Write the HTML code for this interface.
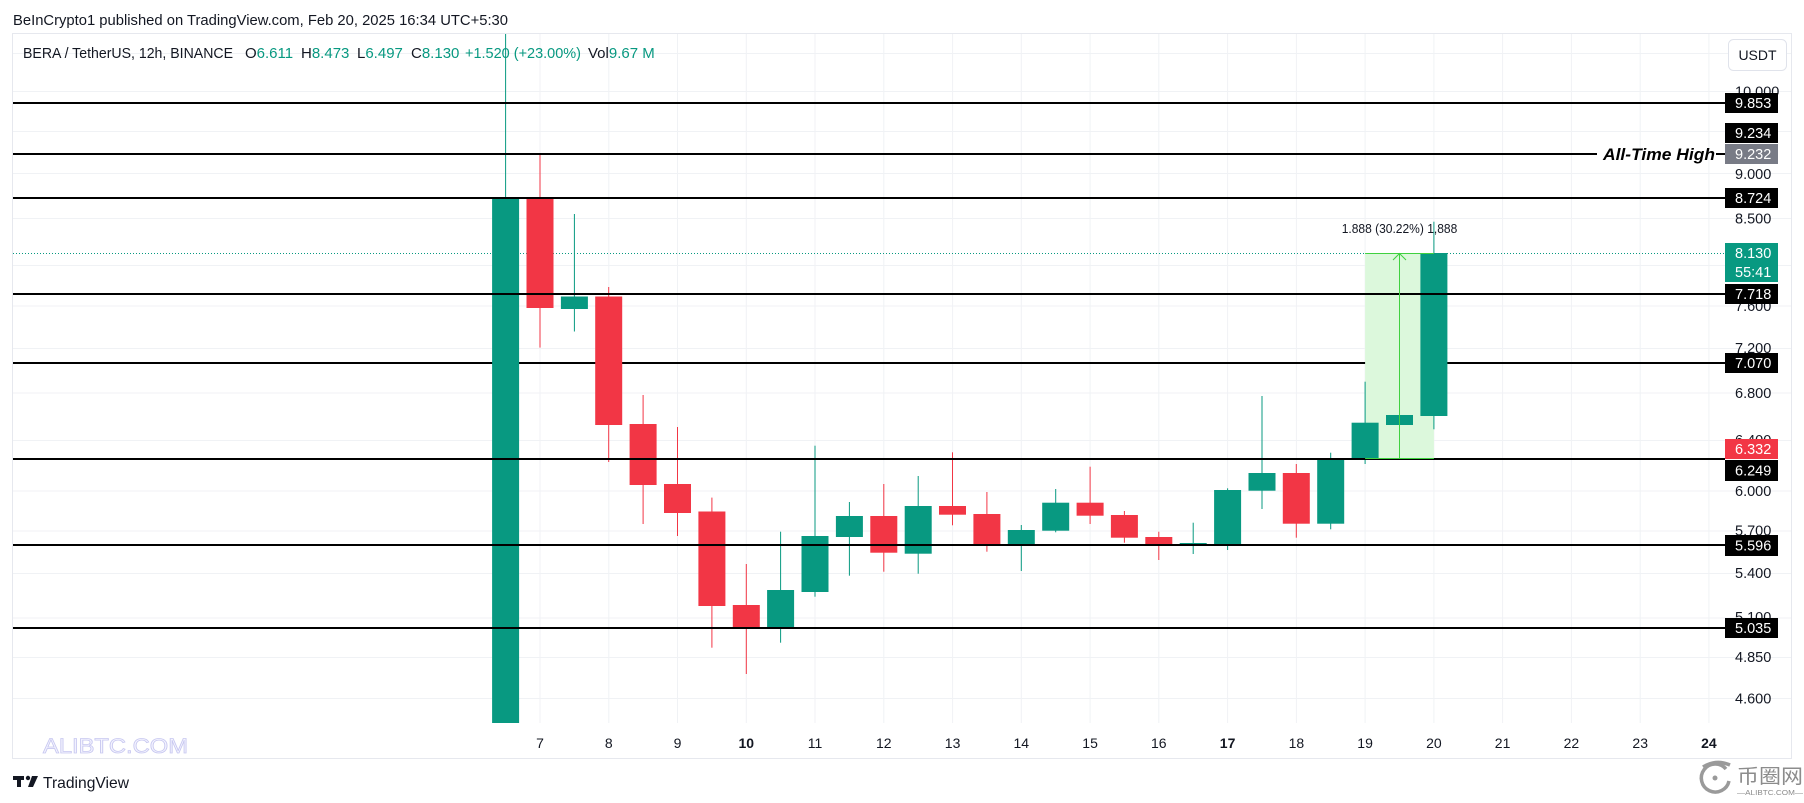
<!DOCTYPE html>
<html><head><meta charset="utf-8"><style>
html,body{margin:0;padding:0;background:#fff;}
svg{display:block;}
text{font-family:"Liberation Sans",sans-serif;}
</style></head><body>
<svg width="1804" height="803" viewBox="0 0 1804 803" xmlns="http://www.w3.org/2000/svg">
<rect width="1804" height="803" fill="#fff"/>
<!-- title -->
<text x="13" y="25" font-size="14.5" fill="#131722" textLength="495" lengthAdjust="spacingAndGlyphs">BeInCrypto1 published on TradingView.com, Feb 20, 2025 16:34 UTC+5:30</text>
<!-- pane -->
<rect x="12.5" y="33.5" width="1779" height="725" fill="none" stroke="#e6e8ee" stroke-width="1"/>
<!-- horizontal grid -->
<g stroke="#f0f2f5" stroke-width="1">
<line x1="13" x2="1791" y1="53.5" y2="53.5"/>
<line x1="13" x2="1791" y1="91.5" y2="91.5"/>
<line x1="13" x2="1791" y1="131.5" y2="131.5"/>
<line x1="13" x2="1791" y1="173.5" y2="173.5"/>
<line x1="13" x2="1791" y1="218.5" y2="218.5"/>
<line x1="13" x2="1791" y1="265.5" y2="265.5"/>
<line x1="13" x2="1791" y1="306" y2="306"/>
<line x1="13" x2="1791" y1="348.5" y2="348.5"/>
<line x1="13" x2="1791" y1="393" y2="393"/>
<line x1="13" x2="1791" y1="440.5" y2="440.5"/>
<line x1="13" x2="1791" y1="491" y2="491"/>
<line x1="13" x2="1791" y1="531" y2="531"/>
<line x1="13" x2="1791" y1="573.5" y2="573.5"/>
<line x1="13" x2="1791" y1="618" y2="618"/>
<line x1="13" x2="1791" y1="657.5" y2="657.5"/>
<line x1="13" x2="1791" y1="698.5" y2="698.5"/>
</g>
<!-- vertical grid -->
<g stroke="#f0f2f5" stroke-width="1">
<line x1="540" x2="540" y1="34" y2="723"/>
<line x1="608.8" x2="608.8" y1="34" y2="723"/>
<line x1="677.5" x2="677.5" y1="34" y2="723"/>
<line x1="746.3" x2="746.3" y1="34" y2="723"/>
<line x1="815" x2="815" y1="34" y2="723"/>
<line x1="883.8" x2="883.8" y1="34" y2="723"/>
<line x1="952.6" x2="952.6" y1="34" y2="723"/>
<line x1="1021.3" x2="1021.3" y1="34" y2="723"/>
<line x1="1090.1" x2="1090.1" y1="34" y2="723"/>
<line x1="1158.8" x2="1158.8" y1="34" y2="723"/>
<line x1="1227.6" x2="1227.6" y1="34" y2="723"/>
<line x1="1296.4" x2="1296.4" y1="34" y2="723"/>
<line x1="1365.1" x2="1365.1" y1="34" y2="723"/>
<line x1="1433.9" x2="1433.9" y1="34" y2="723"/>
<line x1="1502.6" x2="1502.6" y1="34" y2="723"/>
<line x1="1571.4" x2="1571.4" y1="34" y2="723"/>
<line x1="1640.2" x2="1640.2" y1="34" y2="723"/>
<line x1="1708.9" x2="1708.9" y1="34" y2="723"/>
</g>
<!-- legend -->
<g font-size="15" fill="#131722">
<text x="23" y="58" textLength="210" lengthAdjust="spacingAndGlyphs">BERA / TetherUS, 12h, BINANCE</text>
<text x="245" y="58">O<tspan fill="#089981">6.611</tspan></text>
<text x="301" y="58">H<tspan fill="#089981">8.473</tspan></text>
<text x="357" y="58">L<tspan fill="#089981">6.497</tspan></text>
<text x="411" y="58">C<tspan fill="#089981">8.130</tspan></text>
<text x="465" y="58" fill="#089981" textLength="116" lengthAdjust="spacingAndGlyphs">+1.520 (+23.00%)</text>
<text x="588" y="58">Vol<tspan fill="#089981">9.67 M</tspan></text>
</g>
<!-- 7.070 line (under candles) -->
<line x1="13" x2="1725" y1="363" y2="363" stroke="#000" stroke-width="2"/>
<!-- measure box fill -->
<rect x="1365.1" y="253" width="68.8" height="206" fill="#dcf8dc"/>
<!-- dotted current price line -->
<line x1="13" x2="1725" y1="253.5" y2="253.5" stroke="#089981" stroke-width="1" stroke-dasharray="1,2"/>
<!-- candles -->
<g fill="#089981" stroke="none">
<rect x="505.1" y="34" width="1" height="164"/><rect x="492.1" y="198" width="27" height="525"/>
<rect x="573.9" y="214" width="1" height="117.5"/><rect x="560.9" y="296.5" width="27" height="12.5"/>
<rect x="780.1" y="531.7" width="1" height="111"/><rect x="767.1" y="590" width="27" height="37"/>
<rect x="814.5" y="445.7" width="1" height="151"/><rect x="801.5" y="536" width="27" height="56"/>
<rect x="848.9" y="502" width="1" height="73.7"/><rect x="835.9" y="516" width="27" height="21"/>
<rect x="917.7" y="476" width="1" height="97.7"/><rect x="904.7" y="506" width="27" height="47.7"/>
<rect x="1020.8" y="525" width="1" height="46"/><rect x="1007.8" y="530" width="27" height="14"/>
<rect x="1055.2" y="489" width="1" height="43.3"/><rect x="1042.2" y="502.7" width="27" height="28"/>
<rect x="1192.7" y="522.7" width="1" height="31.3"/><rect x="1179.7" y="543" width="27" height="1.5"/>
<rect x="1227.1" y="488.3" width="1" height="61.7"/><rect x="1214.1" y="490" width="27" height="54"/>
<rect x="1261.5" y="396" width="1" height="113"/><rect x="1248.5" y="473" width="27" height="17.7"/>
<rect x="1330.2" y="452.7" width="1" height="76.6"/><rect x="1317.2" y="459" width="27" height="64.7"/>
<rect x="1364.6" y="381.7" width="1" height="82.3"/><rect x="1351.6" y="422.7" width="27" height="36.3"/>
<rect x="1386" y="415" width="27" height="10"/>
<rect x="1433.4" y="221.7" width="1" height="207.6"/><rect x="1420.4" y="253" width="27" height="163"/>
</g>
<g fill="#f23645" stroke="none">
<rect x="539.5" y="155" width="1" height="192.6"/><rect x="526.5" y="198" width="27" height="110"/>
<rect x="608.2" y="287" width="1" height="175"/><rect x="595.2" y="296.5" width="27" height="128.5"/>
<rect x="642.6" y="395" width="1" height="129"/><rect x="629.6" y="424" width="27" height="61"/>
<rect x="677" y="427" width="1" height="109"/><rect x="664" y="484" width="27" height="29"/>
<rect x="711.4" y="497.6" width="1" height="150.1"/><rect x="698.4" y="511.5" width="27" height="94.5"/>
<rect x="745.8" y="564" width="1" height="110"/><rect x="732.8" y="605" width="27" height="22.3"/>
<rect x="883.3" y="484" width="1" height="87.7"/><rect x="870.3" y="516" width="27" height="36.7"/>
<rect x="952" y="452.3" width="1" height="73"/><rect x="939" y="506" width="27" height="8.7"/>
<rect x="986.4" y="492" width="1" height="59.7"/><rect x="973.4" y="514" width="27" height="30"/>
<rect x="1089.6" y="466.7" width="1" height="57.3"/><rect x="1076.6" y="502.7" width="27" height="13"/>
<rect x="1123.9" y="511" width="1" height="31.7"/><rect x="1110.9" y="515" width="27" height="22.7"/>
<rect x="1158.3" y="531.7" width="1" height="28.3"/><rect x="1145.3" y="537" width="27" height="7"/>
<rect x="1295.8" y="464" width="1" height="73.7"/><rect x="1282.8" y="473" width="27" height="50.7"/>
</g>
<!-- horizontal level lines -->
<g stroke="#000" stroke-width="2">
<line x1="13" x2="1725" y1="103" y2="103"/>
<line x1="13" x2="1597" y1="154" y2="154"/>
<line x1="1716" x2="1725" y1="154" y2="154"/>
<line x1="13" x2="1725" y1="198" y2="198"/>
<line x1="13" x2="1725" y1="294" y2="294"/>
<line x1="13" x2="1725" y1="459" y2="459"/>
<line x1="13" x2="1725" y1="545" y2="545"/>
<line x1="13" x2="1725" y1="628" y2="628"/>
</g>
<!-- measure box borders & arrow -->
<g stroke="#3fd13f" stroke-width="1" fill="none">
<line x1="1365.1" x2="1433.9" y1="253.5" y2="253.5"/>
<line x1="1365.1" x2="1433.9" y1="458.5" y2="458.5"/>
<line x1="1399.5" x2="1399.5" y1="254" y2="458"/>
<polyline points="1393,260 1399.5,253.5 1406,260"/>
</g>
<text x="1341.7" y="233" font-size="13" fill="#131722" textLength="115.6" lengthAdjust="spacingAndGlyphs">1.888 (30.22%) 1,888</text>
<!-- ATH text -->
<text x="1603" y="160" font-size="17" font-weight="bold" font-style="italic" fill="#000" textLength="112" lengthAdjust="spacingAndGlyphs">All-Time High</text>
<!-- price axis labels -->
<g font-size="14.5" fill="#131722">
<text x="1735" y="96.5">10.000</text>
<text x="1735" y="179">9.000</text>
<text x="1735" y="223.5">8.500</text>
<text x="1735" y="311">7.600</text>
<text x="1735" y="353">7.200</text>
<text x="1735" y="398">6.800</text>
<text x="1735" y="445">6.400</text>
<text x="1735" y="496">6.000</text>
<text x="1735" y="535.5">5.700</text>
<text x="1735" y="578">5.400</text>
<text x="1735" y="622">5.100</text>
<text x="1735" y="662">4.850</text>
<text x="1735" y="703.5">4.600</text>
</g>
<!-- price label boxes -->
<rect x="1725" y="93" width="53" height="20" fill="#000"/>
<rect x="1725" y="123" width="53" height="20" fill="#000"/>
<rect x="1725" y="144" width="53" height="20" fill="#787b86"/>
<rect x="1725" y="188" width="53" height="20" fill="#000"/>
<rect x="1725" y="243" width="53" height="39" fill="#089981"/>
<rect x="1725" y="284" width="53" height="20" fill="#000"/>
<rect x="1725" y="353" width="53" height="20" fill="#000"/>
<rect x="1725" y="439" width="53" height="20" fill="#f23645"/>
<rect x="1725" y="460" width="53" height="21" fill="#000"/>
<rect x="1725" y="535" width="53" height="21" fill="#000"/>
<rect x="1725" y="618" width="53" height="20" fill="#000"/>
<g font-size="14.5" fill="#fff">
<text x="1735" y="108">9.853</text>
<text x="1735" y="138">9.234</text>
<text x="1735" y="159">9.232</text>
<text x="1735" y="203">8.724</text>
<text x="1735" y="258">8.130</text>
<text x="1735" y="277">55:41</text>
<text x="1735" y="299">7.718</text>
<text x="1735" y="368">7.070</text>
<text x="1735" y="454">6.332</text>
<text x="1735" y="475.5">6.249</text>
<text x="1735" y="550.5">5.596</text>
<text x="1735" y="633">5.035</text>
</g>
<!-- USDT button -->
<rect x="1728.5" y="39.5" width="58" height="31" rx="5" fill="#fff" stroke="#e0e3eb"/>
<text x="1757.5" y="60" font-size="14" fill="#131722" text-anchor="middle">USDT</text>
<!-- time axis -->
<g font-size="14" fill="#131722" text-anchor="middle">
<text x="540" y="748">7</text>
<text x="608.8" y="748">8</text>
<text x="677.5" y="748">9</text>
<text x="746.3" y="748" font-weight="bold">10</text>
<text x="815" y="748">11</text>
<text x="883.8" y="748">12</text>
<text x="952.6" y="748">13</text>
<text x="1021.3" y="748">14</text>
<text x="1090.1" y="748">15</text>
<text x="1158.8" y="748">16</text>
<text x="1227.6" y="748" font-weight="bold">17</text>
<text x="1296.4" y="748">18</text>
<text x="1365.1" y="748">19</text>
<text x="1433.9" y="748">20</text>
<text x="1502.6" y="748">21</text>
<text x="1571.4" y="748">22</text>
<text x="1640.2" y="748">23</text>
<text x="1708.9" y="748" font-weight="bold">24</text>
</g>
<!-- watermark -->
<text x="43" y="753" font-family="'Liberation Serif', serif" font-size="21" fill="#f4f4ff" stroke="#c8c8f0" stroke-width="0.8" textLength="145" lengthAdjust="spacingAndGlyphs">ALIBTC.COM</text>
<!-- TradingView logo -->
<g fill="#131722">
<rect x="13" y="776" width="11" height="4"/>
<rect x="17" y="776" width="4" height="11"/>
<circle cx="28" cy="778" r="2.2"/>
<polygon points="32,776 38,776 33,787 28,787"/>
</g>
<text x="43" y="788" font-size="16" fill="#131722" textLength="86" lengthAdjust="spacingAndGlyphs">TradingView</text>
<!-- bottom-right logo -->
<g fill="none" stroke="#9a9a9a" stroke-width="3.5">
<path d="M1726,769 A14,14 0 1 0 1729,781"/>
<path d="M1703,767 Q1716,759 1730,765"/>
</g>
<circle cx="1715" cy="778" r="2.5" fill="#9a9a9a"/>
<text x="1737" y="783" font-family="'Liberation Sans', 'Noto Sans CJK SC', sans-serif" font-size="20" fill="#8c8c8c" textLength="66" lengthAdjust="spacingAndGlyphs">币圈网</text>
<text x="1737" y="795" font-size="7" fill="#8c8c8c" textLength="66" lengthAdjust="spacingAndGlyphs">—ALIBTC.COM—</text>
</svg>
</body></html>
